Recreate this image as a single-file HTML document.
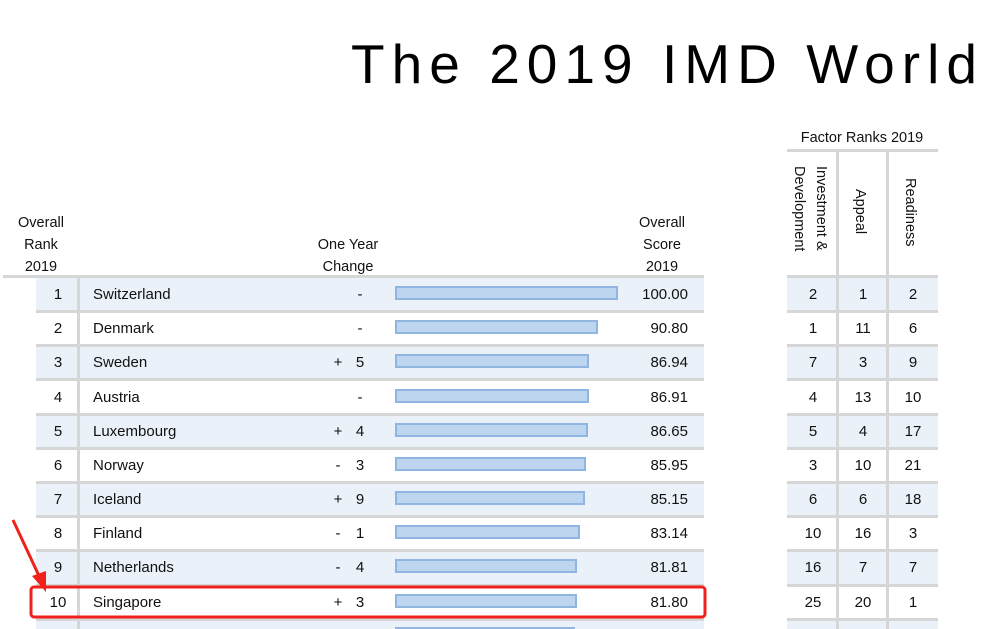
<!DOCTYPE html>
<html><head><meta charset="utf-8"><style>
html,body{margin:0;padding:0;background:#fff;width:1000px;height:629px;overflow:hidden}
svg{display:block;font-family:"Liberation Sans",sans-serif}
</style></head><body>
<svg width="1000" height="629" viewBox="0 0 1000 629" xmlns="http://www.w3.org/2000/svg">
<text x="351" y="83" font-size="55" fill="#000" textLength="626" lengthAdjust="spacing">The 2019 IMD World</text>

<g font-size="14.5" fill="#111" text-anchor="middle">
<text x="41" y="227">Overall</text><text x="41" y="249">Rank</text><text x="41" y="271">2019</text>
<text x="348" y="249">One Year</text><text x="348" y="271">Change</text>
<text x="662" y="227">Overall</text><text x="662" y="249">Score</text><text x="662" y="271">2019</text>
<text x="862" y="142">Factor Ranks 2019</text>
<text transform="translate(817,166) rotate(90)" text-anchor="start">Investment &amp;</text>
<text transform="translate(795,166) rotate(90)" text-anchor="start">Development</text>
<text transform="translate(856,189) rotate(90)" text-anchor="start">Appeal</text>
<text transform="translate(906,178) rotate(90)" text-anchor="start">Readiness</text>
</g>

<!-- right header lines -->
<rect x="787" y="149" width="151" height="3" fill="#d6d6d6"/>
<rect x="836" y="152" width="3" height="124" fill="#d6d6d6"/>
<rect x="886" y="152" width="3" height="124" fill="#d6d6d6"/>

<!-- rows backgrounds -->
<g fill="#eaf1f8">
<rect x="36" y="278" width="668" height="33"/><rect x="36" y="346" width="668" height="33"/>
<rect x="36" y="415" width="668" height="33"/><rect x="36" y="483" width="668" height="33"/>
<rect x="36" y="551" width="668" height="33"/><rect x="36" y="620" width="668" height="10"/>
<rect x="787" y="278" width="151" height="33"/><rect x="787" y="346" width="151" height="33"/>
<rect x="787" y="415" width="151" height="33"/><rect x="787" y="483" width="151" height="33"/>
<rect x="787" y="551" width="151" height="33"/><rect x="787" y="620" width="151" height="10"/>
</g>
<g fill="#d6d6d6">
<rect x="3" y="275" width="701" height="3"/><rect x="787" y="275" width="151" height="3"/>
<rect x="36" y="310" width="668" height="3"/><rect x="787" y="310" width="151" height="3"/>
<rect x="36" y="344" width="668" height="3"/><rect x="787" y="344" width="151" height="3"/>
<rect x="36" y="378" width="668" height="3"/><rect x="787" y="378" width="151" height="3"/>
<rect x="36" y="413" width="668" height="3"/><rect x="787" y="413" width="151" height="3"/>
<rect x="36" y="447" width="668" height="3"/><rect x="787" y="447" width="151" height="3"/>
<rect x="36" y="481" width="668" height="3"/><rect x="787" y="481" width="151" height="3"/>
<rect x="36" y="515" width="668" height="3"/><rect x="787" y="515" width="151" height="3"/>
<rect x="36" y="549" width="668" height="3"/><rect x="787" y="549" width="151" height="3"/>
<rect x="36" y="584" width="668" height="3"/><rect x="787" y="584" width="151" height="3"/>
<rect x="36" y="618" width="668" height="3"/><rect x="787" y="618" width="151" height="3"/>
<rect x="77" y="278" width="3" height="351"/>
<rect x="836" y="278" width="3" height="351"/><rect x="886" y="278" width="3" height="351"/>
</g>

<!-- bars -->
<g fill="#bdd5ee" stroke="#8fb5e0" stroke-width="2">
<rect x="396" y="287" width="221" height="12"/>
<rect x="396" y="321" width="201" height="12"/>
<rect x="396" y="355" width="192" height="12"/>
<rect x="396" y="390" width="192" height="12"/>
<rect x="396" y="424" width="191" height="12"/>
<rect x="396" y="458" width="189" height="12"/>
<rect x="396" y="492" width="188" height="12"/>
<rect x="396" y="526" width="183" height="12"/>
<rect x="396" y="560" width="180" height="12"/>
<rect x="396" y="595" width="180" height="12"/>
<rect x="396" y="628" width="178" height="4"/>
</g>

<g font-size="15" fill="#111">
<g text-anchor="middle">
<text x="58" y="299">1</text><text x="58" y="333">2</text><text x="58" y="367">3</text><text x="58" y="402">4</text><text x="58" y="436">5</text>
<text x="58" y="470">6</text><text x="58" y="504">7</text><text x="58" y="538">8</text><text x="58" y="572">9</text><text x="58" y="607">10</text>
</g>
<text x="93" y="299">Switzerland</text><text x="93" y="333">Denmark</text><text x="93" y="367">Sweden</text><text x="93" y="402">Austria</text><text x="93" y="436">Luxembourg</text>
<text x="93" y="470">Norway</text><text x="93" y="504">Iceland</text><text x="93" y="538">Finland</text><text x="93" y="572">Netherlands</text><text x="93" y="607">Singapore</text>
<g text-anchor="middle">
<text x="360" y="299">-</text><text x="360" y="333">-</text><text x="338" y="367">+</text><text x="360" y="367">5</text><text x="360" y="402">-</text>
<text x="338" y="436">+</text><text x="360" y="436">4</text><text x="338" y="470">-</text><text x="360" y="470">3</text>
<text x="338" y="504">+</text><text x="360" y="504">9</text><text x="338" y="538">-</text><text x="360" y="538">1</text>
<text x="338" y="572">-</text><text x="360" y="572">4</text><text x="338" y="607">+</text><text x="360" y="607">3</text>
</g>
<g text-anchor="end">
<text x="688" y="299">100.00</text><text x="688" y="333">90.80</text><text x="688" y="367">86.94</text><text x="688" y="402">86.91</text><text x="688" y="436">86.65</text>
<text x="688" y="470">85.95</text><text x="688" y="504">85.15</text><text x="688" y="538">83.14</text><text x="688" y="572">81.81</text><text x="688" y="607">81.80</text>
</g>
<g text-anchor="middle">
<text x="813" y="299">2</text><text x="863" y="299">1</text><text x="913" y="299">2</text>
<text x="813" y="333">1</text><text x="863" y="333">11</text><text x="913" y="333">6</text>
<text x="813" y="367">7</text><text x="863" y="367">3</text><text x="913" y="367">9</text>
<text x="813" y="402">4</text><text x="863" y="402">13</text><text x="913" y="402">10</text>
<text x="813" y="436">5</text><text x="863" y="436">4</text><text x="913" y="436">17</text>
<text x="813" y="470">3</text><text x="863" y="470">10</text><text x="913" y="470">21</text>
<text x="813" y="504">6</text><text x="863" y="504">6</text><text x="913" y="504">18</text>
<text x="813" y="538">10</text><text x="863" y="538">16</text><text x="913" y="538">3</text>
<text x="813" y="572">16</text><text x="863" y="572">7</text><text x="913" y="572">7</text>
<text x="813" y="607">25</text><text x="863" y="607">20</text><text x="913" y="607">1</text>
</g>
</g>

<!-- highlight -->
<rect x="31" y="587" width="674" height="30" rx="3" fill="none" stroke="#f0201a" stroke-width="3"/>
<line x1="13" y1="520" x2="40" y2="578" stroke="#f0201a" stroke-width="3"/>
<polygon points="46,592 32,576 46,571" fill="#f0201a"/>
</svg>
</body></html>
